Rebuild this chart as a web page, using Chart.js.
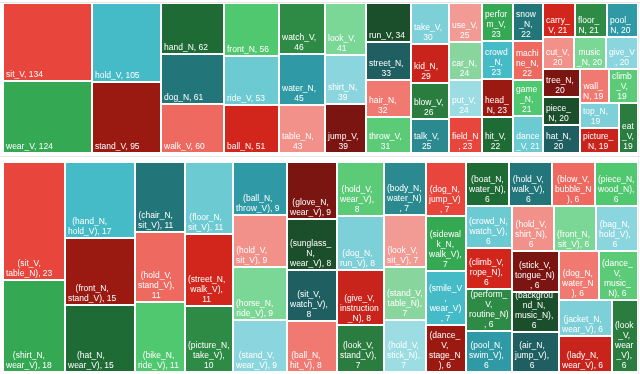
<!DOCTYPE html>
<html>
<head>
<meta charset="utf-8">
<script src="https://cdn.jsdelivr.net/npm/chart.js@4.4.1/dist/chart.umd.min.js"></script>
<style>
  html, body { margin: 0; padding: 0; background: #fff; }
  body { position: relative; width: 640px; height: 374px; overflow: hidden; }
  .rule { position: absolute; left: 0; width: 640px; height: 1px; background: #e6e6e6; }
  .edge { position: absolute; left: 638px; top: 2px; width: 1px; height: 372px; background: #eeeeee; }
  canvas { position: absolute; left: 0; }
</style>
</head>
<body>
<div class="rule" style="top:2px"></div>
<div class="rule" style="top:156px"></div>
<div class="edge"></div>
<canvas id="wordChart" width="640" height="152" style="top:3px"></canvas>
<canvas id="pairChart" width="640" height="217" style="top:157px"></canvas>
<script>
// single words, ranked by count
const wordLabels = [
  'sit_V', 'wear_V', 'hold_V', 'stand_V', 'hand_N', 'dog_N', 'walk_V', 'front_N', 'ride_V', 'ball_N',
  'watch_V', 'water_N', 'table_N', 'look_V', 'shirt_N', 'jump_V', 'run_V', 'street_N', 'hair_N', 'throw_V',
  'take_V', 'kid_N', 'blow_V', 'talk_V', 'use_V', 'car_N', 'put_V', 'field_N', 'perform_V', 'crowd_N',
  'head_N', 'hit_V', 'snow_N', 'machine_N', 'game_N', 'dance_V', 'carry_V', 'floor_N', 'pool_N', 'cut_V',
  'music_N', 'give_V', 'tree_N', 'piece_N', 'hat_N', 'wall_N', 'climb_V', 'top_N', 'picture_N', 'eat_V'
];
const wordValues = [
  134, 124, 105, 95, 62, 61, 60, 56, 53, 51,
  46, 45, 43, 41, 39, 39, 34, 33, 32, 31,
  30, 29, 26, 25, 25, 24, 24, 23, 23, 23,
  23, 22, 22, 22, 21, 21, 21, 21, 20, 20,
  20, 20, 20, 20, 20, 19, 19, 19, 19, 19
];

// word pairs, ranked by count
const pairLabels = [
  'sit_V, table_N', 'shirt_N, wear_V', 'hand_N, hold_V', 'front_N, stand_V', 'hat_N, wear_V',
  'chair_N, sit_V', 'hold_V, stand_V', 'bike_N, ride_V', 'floor_N, sit_V', 'street_N, walk_V',
  'picture_N, take_V', 'ball_N, throw_V', 'hold_V, sit_V', 'horse_N, ride_V', 'stand_V, wear_V',
  'glove_N, wear_V', 'sunglass_N, wear_V', 'sit_V, watch_V', 'ball_N, hit_V', 'hold_V, wear_V',
  'dog_N, run_V', 'give_V, instruction_N', 'look_V, stand_V', 'body_N, water_N', 'look_V, sit_V',
  'stand_V, table_N', 'hold_V, stick_N', 'dog_N, jump_V', 'sidewalk_N, walk_V', 'smile_V, wear_V',
  'dance_V, stage_N', 'boat_N, water_N', 'hold_V, walk_V', 'blow_V, bubble_N', 'piece_N, wood_N',
  'crowd_N, watch_V', 'climb_V, rope_N', 'perform_V, routine_N', 'pool_N, swim_V', 'hold_V, shirt_N',
  'front_N, sit_V', 'bag_N, hold_V', 'stick_V, tongue_N', 'background_N, music_N', 'air_N, jump_V',
  'dog_N, water_N', 'dance_V, music_N', 'jacket_N, wear_V', 'lady_N, wear_V', 'look_V, wear_V'
];
const pairValues = [
  23, 18, 17, 15, 15, 11, 11, 11, 11, 11,
  10, 9, 9, 9, 9, 9, 8, 8, 8, 8,
  8, 8, 7, 7, 7, 7, 7, 7, 7, 7,
  6, 6, 6, 6, 6, 6, 6, 6, 6, 6,
  6, 6, 6, 6, 6, 6, 6, 6, 6, 6
];

// colours repeat by rank
const palette = [
  '#e8453c', '#34a853', '#45bbc7', '#9a1a12', '#1f6b36', '#22767a', '#ee6a60', '#4fc86f', '#6ccad3',
  '#d2261c', '#2e8b45', '#2f9aa5', '#f2908a', '#7bd795', '#8bd6de', '#7b1511', '#1b4f2b', '#1f5f61',
  '#f07a72', '#5ccb78', '#7dcfd8', '#c8241c', '#2a7d3f', '#2a8a8f', '#f29a94', '#88d69d', '#9bdde3'
];

// squarified tiling (same rule as d3's treemapSquarify), in data units
function squarify(values, x0, y0, x1, y1, ratio) {
  const cells = [];
  const n = values.length;
  let value = values.reduce((a, b) => a + b, 0);
  let i0 = 0, i1 = 0;
  while (i0 < n) {
    const dx = x1 - x0, dy = y1 - y0;
    let sum = values[i1++];
    let minV = sum, maxV = sum;
    const alpha = Math.max(dy / dx, dx / dy) / (value * ratio);
    let beta = sum * sum * alpha;
    let minRatio = Math.max(maxV / beta, beta / minV);
    for (; i1 < n; ++i1) {
      const v = values[i1];
      sum += v;
      if (v < minV) minV = v;
      if (v > maxV) maxV = v;
      beta = sum * sum * alpha;
      const r = Math.max(maxV / beta, beta / minV);
      if (r > minRatio) { sum -= v; break; }
      minRatio = r;
    }
    if (dx < dy) {
      const h = dy * sum / value;
      let x = x0;
      for (let i = i0; i < i1; i++) {
        const w = dx * values[i] / sum;
        cells.push({ i, x0: x, y0: y0, x1: x + w, y1: y0 + h });
        x += w;
      }
      y0 += h;
    } else {
      const w = dx * sum / value;
      let y = y0;
      for (let i = i0; i < i1; i++) {
        const h = dy * values[i] / sum;
        cells.push({ i, x0: x0, y0: y, x1: x0 + w, y1: y + h });
        y += h;
      }
      x0 += w;
    }
    value -= sum;
    i0 = i1;
  }
  return cells;
}

function wrapText(ctx, text, maxW) {
  const words = text.split(' ');
  const lines = [];
  let line = '';
  words.forEach(word => {
    const test = line ? line + ' ' + word : word;
    if (ctx.measureText(test).width <= maxW) { line = test; return; }
    if (line) lines.push(line);
    let rest = word;
    while (rest.length > 1 && ctx.measureText(rest).width > maxW) {
      let k = 1;
      while (k < rest.length - 1 && ctx.measureText(rest.slice(0, k + 1)).width <= maxW) k++;
      lines.push(rest.slice(0, k));
      rest = rest.slice(k);
    }
    line = rest;
  });
  if (line) lines.push(line);
  return lines;
}

function treemapPlugin(values, texts, ratio) {
  return {
    id: 'treemapCells',
    afterDatasetsDraw(chart) {
      const { ctx, scales: { x, y } } = chart;
      const cells = squarify(values, x.min, y.min, x.max, y.max, ratio);
      ctx.save();
      ctx.font = '8.5px "Liberation Sans", Arial, sans-serif';
      ctx.textBaseline = 'alphabetic';
      ctx.textAlign = 'center';
      cells.forEach(c => {
        const left = Math.round(x.getPixelForValue(c.x0)) + 1;
        const right = Math.round(x.getPixelForValue(c.x1)) - 1;
        const top = Math.round(y.getPixelForValue(c.y0)) + 1;
        const bottom = Math.round(y.getPixelForValue(c.y1)) - 1;
        ctx.fillStyle = palette[c.i % palette.length];
        ctx.fillRect(left, top, right - left, bottom - top);

        const lines = wrapText(ctx, texts[c.i], right - left - 4);
        const blockW = Math.max(...lines.map(l => ctx.measureText(l).width));
        const cx = left + 2 + blockW / 2;
        ctx.save();
        ctx.beginPath();
        ctx.rect(left, top, right - left, bottom - top);
        ctx.clip();
        ctx.fillStyle = '#ffffff';
        lines.forEach((l, k) => {
          ctx.fillText(l, cx, bottom - 3 - (lines.length - 1 - k) * 10);
        });
        ctx.restore();
      });
      ctx.restore();
    }
  };
}

function makeTreemap(canvasId, values, texts, boxWidth, ratio, padding) {
  return new Chart(document.getElementById(canvasId), {
    type: 'scatter',
    data: { datasets: [{ data: [] }] },
    options: {
      responsive: false,
      animation: false,
      events: [],
      layout: { padding },
      plugins: { legend: { display: false }, tooltip: { enabled: false } },
      scales: {
        x: { type: 'linear', min: 0, max: boxWidth, display: false },
        y: { type: 'linear', min: 0, max: 1, reverse: true, display: false }
      }
    },
    plugins: [treemapPlugin(values, texts, ratio)]
  });
}

const wordTexts = wordLabels.map((w, i) => `${w}, ${wordValues[i]}`);
const pairTexts = pairLabels.map((p, i) => `(${p}), ${pairValues[i]}`);

makeTreemap('wordChart', wordValues, wordTexts, 5.09, 1.1, { left: 3, right: 2, top: 0, bottom: 2 });
makeTreemap('pairChart', pairValues, pairTexts, 3.6, 1, { left: 3, right: 2, top: 5, bottom: 2 });
</script>
</body>
</html>
